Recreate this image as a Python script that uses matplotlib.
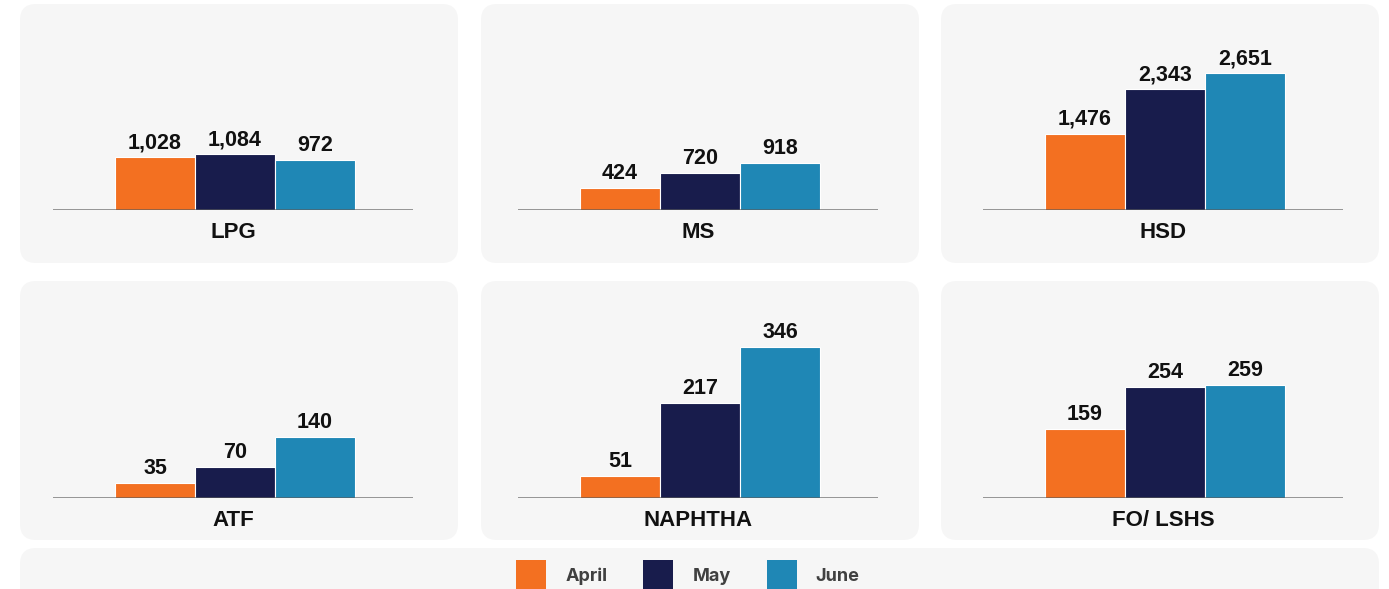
import matplotlib.pyplot as plt
from matplotlib.patches import FancyBboxPatch, Patch

# Monthly volumes per product (April, May, June)
months = ["April", "May", "June"]
products = ["LPG", "MS", "HSD", "ATF", "NAPHTHA", "FO/ LSHS"]
april = [1028, 424, 1476, 35, 51, 159]
may = [1084, 720, 2343, 70, 217, 254]
june = [972, 918, 2651, 140, 346, 259]

COLORS = ["#F37021", "#181C4C", "#1F87B5"]
BOX_BG = "#F6F6F6"
W, H = 1389, 589

plt.rcParams["font.family"] = ["Liberation Sans", "DejaVu Sans"]

fig = plt.figure(figsize=(W / 100, H / 100), dpi=100)
fig.patch.set_facecolor("white")

# background axes in pixel coordinates for the rounded cards
bg = fig.add_axes([0, 0, 1, 1])
bg.set_xlim(0, W)
bg.set_ylim(H, 0)
bg.axis("off")

card_x = [20, 481, 941]
card_y = [4, 281]
for cy in card_y:
    for cx in card_x:
        bg.add_patch(FancyBboxPatch((cx, cy), 438, 259,
                                    boxstyle="round,pad=0,rounding_size=16",
                                    fc=BOX_BG, ec="none"))
bg.add_patch(FancyBboxPatch((20, 548), 1359, 80,
                            boxstyle="round,pad=0,rounding_size=16",
                            fc=BOX_BG, ec="none"))

axis_x = [53, 518, 983]
axis_y = [210, 498]
row_ylim = [200 / 0.0515, 200 / 0.436]

for i, name in enumerate(products):
    row, col = divmod(i, 3)
    x0 = axis_x[col]
    y0 = axis_y[row]
    ax = fig.add_axes([x0 / W, 1 - y0 / H, 360 / W, 200 / H])
    ax.set_facecolor("none")
    vals = [april[i], may[i], june[i]]
    for j, v in enumerate(vals):
        ax.bar(j, v, width=1.0, color=COLORS[j], edgecolor="white",
               linewidth=0.8, zorder=2)
        ax.annotate(f"{v:,}", xy=(j, v), xytext=(0, 9),
                    textcoords="offset pixels", ha="center", va="baseline",
                    fontsize=15.5, fontweight="bold", color="#111111")
    ax.axhline(0, color="#555555", lw=1.2, alpha=0.7, zorder=3)
    ax.set_xlim(-1.275, 3.225)
    ax.set_ylim(0, row_ylim[row])
    ax.axis("off")
    ax.annotate(name, xy=(0.5, 0), xycoords="axes fraction",
                xytext=(0, -28), textcoords="offset pixels",
                ha="center", va="baseline", fontsize=16, fontweight="bold",
                color="#111111")

handles = [Patch(facecolor=c, edgecolor="none") for c in COLORS]
leg = fig.legend(handles, months, loc="center",
                 bbox_to_anchor=(688 / W, 1 - 575 / H),
                 ncol=3, frameon=False, handlelength=1.66, handleheight=2.18,
                 handletextpad=1.05, columnspacing=2.0,
                 prop={"family": ["Inter", "DejaVu Sans"], "weight": "bold",
                       "size": 13})
for t in leg.get_texts():
    t.set_color("#404040")

fig.savefig("out.png", dpi=100)
